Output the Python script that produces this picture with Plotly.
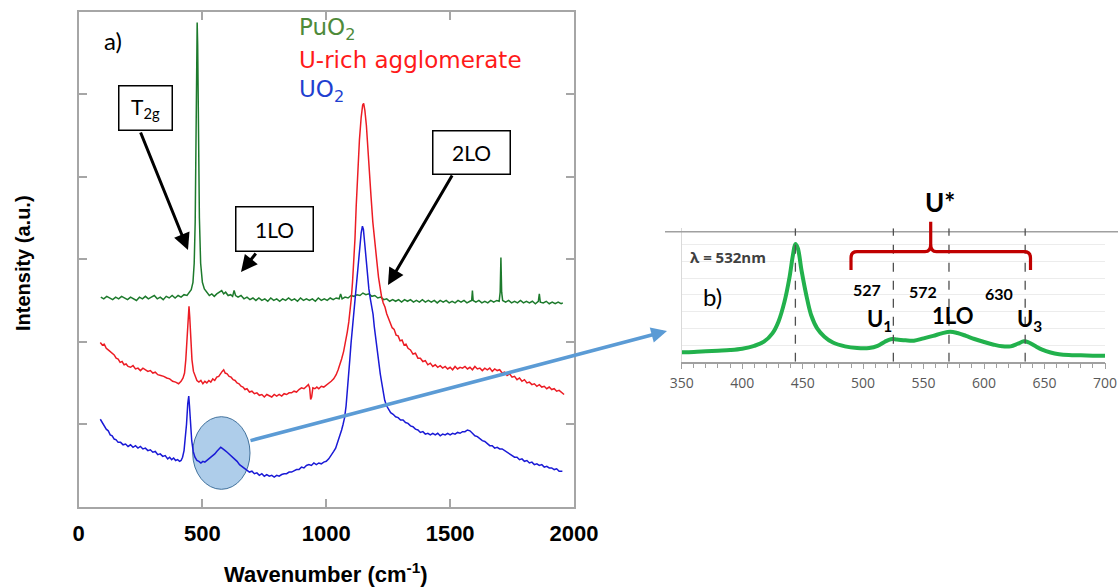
import plotly.graph_objects as go

W, H = 1118, 587


def X(px):
    return px / W


def Y(py):
    return 1 - py / H


# ---------------- data: panel a (Raman spectra, offset for display) ----------------
puo2_wn = [90, 102, 114, 126, 138, 150, 162, 174, 186, 198, 210, 222, 234, 246, 258, 270, 282, 294, 306,
           318, 330, 342, 354, 366, 378, 390, 402, 414, 426, 438, 447, 455, 462, 467, 471, 474, 477, 479,
           481, 484, 488, 493, 500, 508, 518, 528, 538, 548, 558, 568, 578, 586, 594, 604, 614, 622, 628,
           634, 644, 656, 668, 680, 692, 704, 716, 728, 740, 752, 764, 776, 788, 800, 812, 824, 836, 848,
           860, 872, 884, 896, 908, 920, 932, 944, 956, 968, 980, 992, 1004, 1016, 1028, 1040, 1052, 1058,
           1064, 1076, 1088, 1100, 1112, 1124, 1136, 1148, 1160, 1172, 1184, 1196, 1208, 1220, 1232, 1244,
           1256, 1268, 1280, 1292, 1304, 1316, 1328, 1340, 1352, 1364, 1376, 1388, 1400, 1412, 1424, 1436,
           1448, 1460, 1472, 1484, 1496, 1508, 1520, 1532, 1544, 1556, 1568, 1580, 1587, 1590, 1593, 1604,
           1616, 1628, 1640, 1652, 1664, 1676, 1688, 1698, 1702, 1705, 1708, 1712, 1724, 1736, 1748, 1760,
           1772, 1784, 1796, 1808, 1820, 1832, 1844, 1856, 1860, 1864, 1876, 1888, 1900, 1912, 1924, 1936,
           1948, 1955]
puo2_int = [2.54, 2.52, 2.55, 2.53, 2.51, 2.54, 2.52, 2.55, 2.53, 2.51, 2.54, 2.52, 2.50, 2.54, 2.52,
            2.55, 2.52, 2.54, 2.56, 2.52, 2.54, 2.51, 2.55, 2.53, 2.56, 2.53, 2.56, 2.54, 2.57, 2.56,
            2.60, 2.63, 2.72, 2.95, 3.45, 4.30, 5.50, 5.87, 5.60, 4.60, 3.50, 2.95, 2.72, 2.64, 2.60,
            2.56, 2.58, 2.55, 2.58, 2.60, 2.62, 2.58, 2.60, 2.56, 2.57, 2.55, 2.62, 2.56, 2.54, 2.56,
            2.52, 2.54, 2.51, 2.53, 2.50, 2.53, 2.50, 2.52, 2.49, 2.53, 2.50, 2.52, 2.49, 2.52, 2.50,
            2.53, 2.50, 2.52, 2.49, 2.53, 2.50, 2.52, 2.50, 2.52, 2.49, 2.53, 2.50, 2.52, 2.50, 2.53,
            2.51, 2.53, 2.52, 2.58, 2.52, 2.54, 2.53, 2.56, 2.55, 2.57, 2.56, 2.59, 2.57, 2.58, 2.55,
            2.56, 2.53, 2.54, 2.51, 2.52, 2.49, 2.51, 2.49, 2.51, 2.48, 2.51, 2.49, 2.51, 2.48, 2.50,
            2.48, 2.51, 2.48, 2.50, 2.48, 2.50, 2.47, 2.50, 2.48, 2.50, 2.47, 2.49, 2.47, 2.50, 2.48,
            2.50, 2.47, 2.49, 2.50, 2.62, 2.50, 2.48, 2.50, 2.47, 2.49, 2.47, 2.50, 2.48, 2.50, 2.49,
            2.60, 3.02, 2.60, 2.50, 2.48, 2.50, 2.47, 2.49, 2.47, 2.50, 2.47, 2.49, 2.47, 2.49, 2.46,
            2.49, 2.58, 2.48, 2.47, 2.49, 2.46, 2.48, 2.46, 2.48, 2.46, 2.47]

urich_wn = [88, 96, 104, 112, 120, 128, 136, 144, 152, 160, 168, 176, 184, 192, 200, 210, 220, 230, 240,
            250, 260, 270, 280, 290, 300, 310, 320, 332, 344, 356, 368, 380, 392, 404, 414, 422, 428, 433,
            438, 443, 446, 449, 453, 458, 464, 470, 478, 486, 494, 502, 510, 518, 526, 534, 542, 550, 558,
            566, 574, 580, 586, 592, 600, 608, 616, 624, 632, 640, 648, 656, 664, 672, 680, 690, 700, 710,
            720, 730, 740, 750, 760, 770, 780, 790, 800, 810, 820, 830, 840, 850, 860, 870, 880, 890, 900,
            910, 920, 928, 933, 937, 941, 946, 954, 962, 970, 980, 990, 1000, 1010, 1020, 1030, 1040, 1048,
            1055, 1062, 1070, 1078, 1085, 1091, 1096, 1101, 1106, 1111, 1116, 1121, 1127, 1134, 1141, 1147,
            1151, 1156, 1162, 1168, 1174, 1181, 1188, 1196, 1204, 1211, 1217, 1223, 1230, 1237, 1244, 1251,
            1258, 1266, 1274, 1282, 1290, 1298, 1306, 1314, 1322, 1330, 1340, 1350, 1360, 1370, 1380, 1390,
            1400, 1410, 1420, 1430, 1440, 1450, 1460, 1470, 1480, 1490, 1500, 1510, 1520, 1530, 1540, 1550,
            1560, 1570, 1580, 1590, 1600, 1610, 1620, 1630, 1640, 1650, 1660, 1670, 1680, 1690, 1700, 1710,
            1720, 1730, 1740, 1750, 1760, 1770, 1780, 1790, 1800, 1810, 1820, 1830, 1840, 1850, 1860, 1870,
            1880, 1890, 1900, 1910, 1920, 1930, 1940, 1950, 1960]
urich_int = [1.99, 1.96, 1.97, 1.92, 1.90, 1.88, 1.85, 1.84, 1.80, 1.79, 1.75, 1.76, 1.72, 1.73, 1.70,
             1.69, 1.71, 1.67, 1.68, 1.65, 1.68, 1.66, 1.64, 1.65, 1.62, 1.63, 1.60, 1.59, 1.58, 1.56,
             1.55, 1.52, 1.51, 1.49, 1.52, 1.56, 1.62, 1.78, 2.05, 2.35, 2.43, 2.30, 2.00, 1.78, 1.64,
             1.58, 1.53, 1.51, 1.53, 1.49, 1.52, 1.50, 1.53, 1.51, 1.55, 1.53, 1.57, 1.58, 1.62, 1.64,
             1.66, 1.62, 1.61, 1.58, 1.57, 1.54, 1.53, 1.50, 1.49, 1.46, 1.45, 1.42, 1.43, 1.39, 1.40,
             1.37, 1.38, 1.35, 1.36, 1.33, 1.36, 1.34, 1.33, 1.36, 1.34, 1.36, 1.34, 1.37, 1.36, 1.38,
             1.38, 1.40, 1.39, 1.42, 1.44, 1.43, 1.46, 1.48, 1.44, 1.30, 1.33, 1.44, 1.43, 1.45, 1.43,
             1.46, 1.45, 1.47, 1.49, 1.52, 1.55, 1.60, 1.66, 1.72, 1.79, 1.88, 1.99, 2.12, 2.24, 2.35,
             2.52, 2.72, 2.95, 3.25, 3.65, 4.12, 4.45, 4.72, 4.87, 4.89, 4.80, 4.62, 4.38, 4.08, 3.75,
             3.45, 3.18, 2.98, 2.78, 2.64, 2.55, 2.47, 2.42, 2.34, 2.28, 2.24, 2.17, 2.15, 2.08, 2.07,
             2.01, 2.02, 1.96, 1.97, 1.92, 1.90, 1.85, 1.86, 1.80, 1.80, 1.76, 1.77, 1.72, 1.74, 1.70,
             1.72, 1.69, 1.71, 1.68, 1.70, 1.67, 1.69, 1.66, 1.70, 1.67, 1.69, 1.68, 1.70, 1.67, 1.69,
             1.66, 1.70, 1.67, 1.68, 1.65, 1.68, 1.66, 1.68, 1.64, 1.67, 1.65, 1.66, 1.62, 1.63, 1.59,
             1.61, 1.57, 1.58, 1.54, 1.56, 1.52, 1.54, 1.50, 1.51, 1.48, 1.49, 1.46, 1.48, 1.45, 1.46,
             1.43, 1.45, 1.42, 1.43, 1.40, 1.41, 1.38, 1.36]

uo2_wn = [88, 96, 104, 112, 120, 128, 136, 144, 152, 160, 170, 180, 190, 200, 210, 220, 230, 240, 250,
          260, 270, 280, 290, 300, 310, 320, 330, 340, 350, 360, 368, 376, 384, 392, 400, 408, 414, 420,
          426, 431, 436, 441, 445, 448, 452, 457, 463, 470, 478, 486, 494, 502, 510, 518, 526, 534, 542,
          550, 558, 564, 569, 574, 579, 585, 592, 600, 608, 616, 624, 632, 640, 650, 660, 670, 680, 690,
          700, 710, 720, 730, 740, 750, 760, 770, 780, 790, 800, 810, 820, 830, 840, 850, 860, 870, 880,
          890, 900, 910, 920, 930, 940, 950, 960, 970, 980, 990, 1000, 1010, 1020, 1030, 1038, 1046, 1054,
          1062, 1068, 1074, 1080, 1085, 1090, 1095, 1100, 1106, 1112, 1118, 1124, 1130, 1136, 1141, 1146,
          1150, 1155, 1160, 1166, 1172, 1178, 1184, 1189, 1194, 1200, 1206, 1212, 1218, 1224, 1230, 1236,
          1244, 1252, 1260, 1270, 1280, 1290, 1300, 1310, 1320, 1330, 1340, 1350, 1360, 1370, 1380, 1390,
          1400, 1410, 1420, 1430, 1440, 1450, 1460, 1470, 1480, 1490, 1500, 1510, 1520, 1530, 1540, 1550,
          1560, 1570, 1580, 1590, 1600, 1610, 1620, 1630, 1640, 1650, 1660, 1670, 1680, 1690, 1700, 1710,
          1720, 1730, 1740, 1750, 1760, 1770, 1780, 1790, 1800, 1810, 1820, 1830, 1840, 1850, 1860, 1870,
          1880, 1890, 1900, 1910, 1920, 1930, 1940, 1953]
uo2_int = [1.06, 1.02, 0.99, 0.94, 0.92, 0.87, 0.86, 0.82, 0.81, 0.78, 0.78, 0.75, 0.76, 0.73, 0.75,
           0.72, 0.74, 0.71, 0.73, 0.70, 0.71, 0.68, 0.69, 0.66, 0.67, 0.63, 0.64, 0.61, 0.62, 0.58,
           0.60, 0.57, 0.59, 0.56, 0.57, 0.55, 0.56, 0.60, 0.68, 0.82, 1.00, 1.25, 1.34, 1.22, 0.98,
           0.80, 0.67, 0.60, 0.56, 0.55, 0.53, 0.55, 0.54, 0.56, 0.57, 0.60, 0.61, 0.64, 0.67, 0.69,
           0.71, 0.72, 0.71, 0.70, 0.68, 0.66, 0.64, 0.62, 0.60, 0.57, 0.55, 0.51, 0.49, 0.46, 0.45,
           0.42, 0.43, 0.40, 0.41, 0.38, 0.40, 0.37, 0.39, 0.37, 0.38, 0.36, 0.38, 0.37, 0.39, 0.40,
           0.40, 0.42, 0.42, 0.44, 0.45, 0.45, 0.48, 0.47, 0.50, 0.51, 0.50, 0.53, 0.51, 0.53, 0.52,
           0.54, 0.55, 0.58, 0.62, 0.67, 0.71, 0.78, 0.85, 0.93, 1.00, 1.08, 1.22, 1.38, 1.58, 1.78,
           1.98, 2.18, 2.38, 2.58, 2.76, 2.95, 3.17, 3.32, 3.40, 3.36, 3.20, 3.00, 2.82, 2.64, 2.52,
           2.42, 2.33, 2.18, 2.02, 1.87, 1.74, 1.61, 1.50, 1.38, 1.29, 1.22, 1.17, 1.14, 1.12, 1.09,
           1.08, 1.05, 1.05, 1.02, 1.01, 0.98, 0.97, 0.94, 0.93, 0.90, 0.91, 0.88, 0.89, 0.87, 0.89,
           0.87, 0.89, 0.86, 0.88, 0.87, 0.89, 0.87, 0.89, 0.88, 0.90, 0.89, 0.91, 0.91, 0.93, 0.92,
           0.89, 0.86, 0.85, 0.82, 0.80, 0.79, 0.76, 0.74, 0.74, 0.71, 0.72, 0.70, 0.70, 0.68, 0.67,
           0.64, 0.63, 0.60, 0.60, 0.57, 0.58, 0.55, 0.56, 0.53, 0.54, 0.51, 0.52, 0.50, 0.51, 0.48,
           0.49, 0.47, 0.47, 0.45, 0.46, 0.43, 0.43]

# ---------------- data: panel b (inset spectrum, lambda = 532 nm) ----------------
inset_wn = [350, 360, 370, 380, 390, 400, 410, 418, 425, 430, 435, 439, 442, 444, 446, 449, 453, 457,
            462, 468, 475, 485, 495, 505, 512, 518, 523, 528, 535, 542, 550, 558, 565, 572, 578, 585,
            592, 600, 608, 615, 622, 628, 633, 637, 642, 648, 655, 662, 670, 680, 690, 700]
inset_int = [0.56, 0.58, 0.62, 0.66, 0.70, 0.78, 0.95, 1.20, 1.70, 2.40, 3.60, 5.00, 6.40, 7.05, 6.80,
             5.50, 4.00, 2.80, 2.00, 1.50, 1.15, 0.92, 0.82, 0.82, 0.95, 1.20, 1.35, 1.33, 1.28, 1.26,
             1.40, 1.55, 1.70, 1.80, 1.72, 1.55, 1.36, 1.18, 1.02, 0.92, 0.92, 1.08, 1.22, 1.15, 0.95,
             0.72, 0.55, 0.45, 0.40, 0.38, 0.36, 0.35]
inset_marks = [444, 525, 571, 634]

a_ticks = [0, 500, 1000, 1500, 2000]
b_ticks = [350, 400, 450, 500, 550, 600, 650, 700]

GREEN, RED, BLUE = "#1d7a2c", "#ec1c24", "#1a1ad6"
B_GREEN = "#22b14c"

fig = go.Figure()
fig.add_trace(go.Scatter(x=puo2_wn, y=puo2_int, mode="lines", line=dict(color=GREEN, width=1.5),
                         xaxis="x", yaxis="y"))
fig.add_trace(go.Scatter(x=urich_wn, y=urich_int, mode="lines", line=dict(color=RED, width=1.5),
                         xaxis="x", yaxis="y"))
fig.add_trace(go.Scatter(x=uo2_wn, y=uo2_int, mode="lines", line=dict(color=BLUE, width=1.5),
                         xaxis="x", yaxis="y"))
fig.add_trace(go.Scatter(x=inset_wn, y=inset_int, mode="lines", line=dict(color=B_GREEN, width=4, shape="spline"),
                         xaxis="x2", yaxis="y2"))

FRAME = "#a6a6a6"
fig.update_layout(
    width=W, height=H, autosize=False, margin=dict(l=0, r=0, t=0, b=0, pad=0, autoexpand=False),
    paper_bgcolor="white", plot_bgcolor="white", showlegend=False,
    xaxis=dict(domain=[X(78.5), X(574)], range=[0, 2000], tickvals=a_ticks,
               ticks="inside", ticklen=8, tickwidth=1.5, tickcolor=FRAME,
               showline=True, linecolor=FRAME, linewidth=2, mirror="ticks",
               showgrid=False, zeroline=False, ticklabelstandoff=6, automargin=False,
               tickfont=dict(family="Liberation Sans", size=22, color="black", weight="bold")),
    yaxis=dict(domain=[Y(506.7), Y(11.7)], range=[0, 6], tickvals=[1, 2, 3, 4, 5],
               ticks="inside", ticklen=8, tickwidth=1.5, tickcolor=FRAME,
               showline=True, linecolor=FRAME, linewidth=2, mirror="ticks", automargin=False,
               showgrid=False, zeroline=False, showticklabels=False),
    xaxis2=dict(domain=[X(681.7), X(1105)], range=[350, 700], tickvals=b_ticks, anchor="y2",
                ticks="outside", ticklen=6, tickcolor="#a0a0a0", showline=True, linecolor="#a0a0a0",
                linewidth=1.5, showgrid=False, zeroline=False, ticklabelstandoff=2, automargin=False,
                minor=dict(dtick=10, ticks="outside", ticklen=5, tickcolor="#a0a0a0"),
                tickfont=dict(family="Open Sans", size=14, color="#595959")),
    yaxis2=dict(domain=[Y(361.7), Y(228.2)], range=[0, 8], tickvals=[1, 2, 3, 4, 5, 6, 7], anchor="x2",
                showticklabels=False, ticks="", showgrid=True, gridcolor="#ececec", automargin=False,
                showline=True, linecolor="#d9d9d9", linewidth=1, zeroline=False),
)

shapes = []
shapes.append(dict(type="circle", xref="paper", yref="paper", x0=X(192.7), x1=X(250), y0=Y(489.3), y1=Y(416.7),
                   fillcolor="rgba(160,196,230,0.85)", line=dict(color="#41719c", width=1), layer="below"))
shapes.append(dict(type="line", xref="paper", yref="paper", x0=X(665), x1=1, y0=Y(231.7), y1=Y(231.7),
                   line=dict(color="#a0a0a0", width=1.5)))
for m in inset_marks:
    shapes.append(dict(type="line", xref="x2", yref="y2", x0=m, x1=m, y0=0, y1=8,
                       line=dict(color="#505050", width=1.3, dash="dash")))


def P(px, py):
    return f"{X(px):.5f},{Y(py):.5f}"


brace = (f"M {P(851, 270)} L {P(851, 258)} Q {P(851, 251.7)} {P(857, 251.7)} L {P(925, 251.7)} "
         f"Q {P(930.7, 251.7)} {P(930.7, 244)} L {P(930.7, 221.7)} L {P(930.7, 244)} "
         f"Q {P(930.7, 251.7)} {P(936.4, 251.7)} L {P(1024, 251.7)} Q {P(1030.5, 251.7)} {P(1030.5, 258)} "
         f"L {P(1030.5, 270)}")
shapes.append(dict(type="path", xref="paper", yref="paper", path=brace,
                   line=dict(color="#c00000", width=3.2)))
fig.update_layout(shapes=shapes)

ann = []


def text(px, py, t, size, color="black", family="Lato", weight="normal", xanchor="center", angle=0):
    ann.append(dict(x=X(px), y=Y(py), xref="paper", yref="paper", text=t, showarrow=False,
                    xanchor=xanchor, yanchor="middle", textangle=angle,
                    font=dict(family=family, size=size, color=color, weight=weight)))


def arrow(tail, tip, color="black", width=3, size=1.1):
    ann.append(dict(x=X(tip[0]), y=Y(tip[1]), xref="paper", yref="paper", text="", showarrow=True,
                    ax=tail[0] - tip[0], ay=tail[1] - tip[1], axref="pixel", ayref="pixel",
                    arrowhead=2, arrowsize=size, arrowwidth=width, arrowcolor=color))


def box(cx, cy, w, h, t):
    ann.append(dict(x=X(cx), y=Y(cy), xref="paper", yref="paper", text=t, showarrow=False,
                    xanchor="center", yanchor="middle", width=w, height=h, borderpad=0,
                    bordercolor="black", borderwidth=1.5, bgcolor="white",
                    font=dict(family="Lato", size=21, color="black")))


text(113, 40, "a)", 24)
text(297, 29, "PuO<sub>2</sub>", 23, "#4e8a3a", "DejaVu Sans", xanchor="left")
text(297, 60, "U-rich agglomerate", 23, "#ff1a1a", "DejaVu Sans", xanchor="left")
text(297, 91, "UO<sub>2</sub>", 23, "#1f3fd0", "DejaVu Sans", xanchor="left")
text(23, 263, "Intensity (a.u.)", 20, family="Liberation Sans", weight="bold", angle=-90)
text(326, 573, "Wavenumber (cm<sup>-1</sup>)", 22, family="Liberation Sans", weight="bold")

box(145, 108, 52, 43, "T<sub>2g</sub>")
box(274, 229, 76, 43, "1LO")
box(471, 152, 76, 42, "2LO")
arrow((140, 131), (188, 250))
arrow((257, 252), (241, 272))
arrow((453, 174), (388, 285))
arrow((249, 441), (667, 331), color="#5b9bd5", width=3.5, size=0.9)

text(728, 257, "λ = 532nm", 15, "#404040", "Open Sans", "bold")
text(712, 297, "b)", 24)
text(940, 202, "U*", 26, weight="bold")
text(867, 290, "527", 16, weight="bold")
text(923, 291, "572", 16, weight="bold")
text(999, 294, "630", 16, weight="bold")
text(879, 320, "U<sub>1</sub>", 22, weight="bold")
text(952, 315, "1LO", 22, weight="bold")
text(1029, 320, "U<sub>3</sub>", 22, weight="bold")

fig.update_layout(annotations=ann)
fig.write_html("out.html", config={"displayModeBar": False},
               post_script="document.body.style.margin='0px';document.body.style.overflow='hidden';")
